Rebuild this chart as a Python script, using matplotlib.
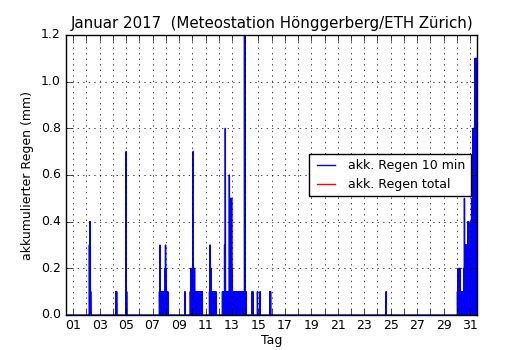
import matplotlib.pyplot as plt
import numpy as np

plt.style.use('classic')

# 10-min Regensummen (Tag im Monat, mm), nur Intervalle mit Regen
rain_days = [
    2.22, 2.25, 2.28, 2.32,
    4.21, 4.28,
    5.00, 5.04,
    7.52, 7.55, 7.58, 7.62, 7.66, 7.70, 7.74, 7.78, 7.82, 7.86, 7.90, 7.95, 7.98, 8.00, 8.05, 8.10, 8.15,
    9.45,
    9.85, 9.90, 9.95, 10.00, 10.06, 10.09, 10.13, 10.17, 10.21, 10.25, 10.30, 10.35, 10.40, 10.50,
    10.55, 10.60, 10.65, 10.70, 10.75,
    11.30, 11.35, 11.38, 11.42, 11.45, 11.55, 11.60, 11.70, 11.78,
    12.28, 12.33, 12.38, 12.44, 12.50, 12.55, 12.62, 12.70, 12.75, 12.80, 12.85, 12.90, 12.94, 12.98,
    13.02, 13.06, 13.10, 13.14, 13.18, 13.22, 13.26, 13.30, 13.34, 13.38, 13.42, 13.46, 13.50, 13.54,
    13.58, 13.62, 13.66, 13.70, 13.74, 13.78, 13.82, 13.86, 13.90, 13.95, 13.98, 14.02, 14.06,
    14.52, 14.58, 14.93, 15.13, 15.86, 15.92,
    24.66,
    30.05, 30.10, 30.14, 30.18, 30.22, 30.25, 30.33, 30.38, 30.42, 30.46, 30.50,
    30.55, 30.58, 30.61, 30.64, 30.67, 30.70, 30.73, 30.76, 30.79, 30.82, 30.85, 30.88, 30.91,
    30.94, 30.97, 31.00, 31.03, 31.06, 31.09, 31.12, 31.15, 31.18, 31.21, 31.24, 31.27, 31.30,
    31.33, 31.36, 31.39, 31.42, 31.45, 31.48, 31.51,
]
rain_mm = [
    0.3, 0.4, 0.4, 0.1,
    0.1, 0.1,
    0.7, 0.1,
    0.1, 0.3, 0.1, 0.1, 0.1, 0.1, 0.1, 0.1, 0.1, 0.1, 0.1, 0.2, 0.3, 0.2, 0.1, 0.1, 0.1,
    0.1,
    0.1, 0.2, 0.1, 0.2, 0.7, 0.2, 0.1, 0.2, 0.1, 0.1, 0.1, 0.1, 0.1, 0.1,
    0.1, 0.1, 0.1, 0.1, 0.1,
    0.1, 0.3, 0.2, 0.2, 0.1, 0.1, 0.1, 0.1, 0.1,
    0.1, 0.1, 0.1, 0.3, 0.8, 0.1, 0.1, 0.1, 0.1, 0.6, 0.2, 0.5, 0.3, 0.5,
    0.2, 0.1, 0.1, 0.1, 0.1, 0.1, 0.1, 0.1, 0.1, 0.1, 0.1, 0.1, 0.1, 0.1,
    0.1, 0.1, 0.1, 0.1, 0.1, 0.1, 0.1, 0.1, 0.1, 1.2, 1.2, 0.1, 0.1,
    0.1, 0.1, 0.1, 0.1, 0.1, 0.1,
    0.1,
    0.1, 0.2, 0.1, 0.2, 0.1, 0.2, 0.1, 0.1, 0.1, 0.1, 0.1,
    0.2, 0.5, 0.3, 0.2, 0.3, 0.1, 0.3, 0.2, 0.3, 0.2, 0.4, 0.2, 0.4,
    0.3, 0.2, 0.3, 0.2, 0.4, 0.3, 0.5, 0.2, 0.4, 0.3, 0.8, 0.5, 0.8,
    0.4, 1.1, 0.6, 1.1, 0.9, 1.1, 1.1,
]
# Summe liegt ausserhalb des gezeigten Bereichs
total_days = []
total_mm = []

t_start, t_end = 0.47, 31.53
step = 1 / 144.
t = np.arange(t_start, t_end + step / 2, step)
regen = np.zeros(len(t))
for d, v in zip(rain_days, rain_mm):
    regen[int(round((d - t_start) / step))] = v

fs = 9
fig = plt.figure(figsize=(5.3, 3.5), dpi=100, facecolor='white')
ax = fig.add_subplot(111)
ax.plot(t, regen, 'b-', lw=1.0, label='akk. Regen 10 min')
ax.plot(total_days, total_mm, 'r-', lw=1.0, label='akk. Regen total')

ax.set_xlim(t_start, t_end)
ax.set_ylim(0, 1.2)
days = np.arange(1, 32)
ax.set_xticks(days)
ax.set_xticklabels(['%02d' % d if d % 2 == 1 else '' for d in days], fontsize=fs)
ax.set_yticks(np.arange(0, 1.21, 0.2))
ax.tick_params(axis='y', labelsize=fs)
ax.tick_params(axis='x', pad=3)
ax.grid(True)
ax.set_xlabel('Tag', fontsize=fs, labelpad=1)
ax.set_ylabel('akkumulierter Regen (mm)', fontsize=fs)
ax.set_title('Januar 2017  (Meteostation Hönggerberg/ETH Zürich)', fontsize=10.8)
ax.legend(loc='center right', fontsize=fs)

fig.subplots_adjust(left=0.125, right=0.9, bottom=0.1, top=0.9)
fig.savefig('out.png', dpi=100, facecolor='white')
